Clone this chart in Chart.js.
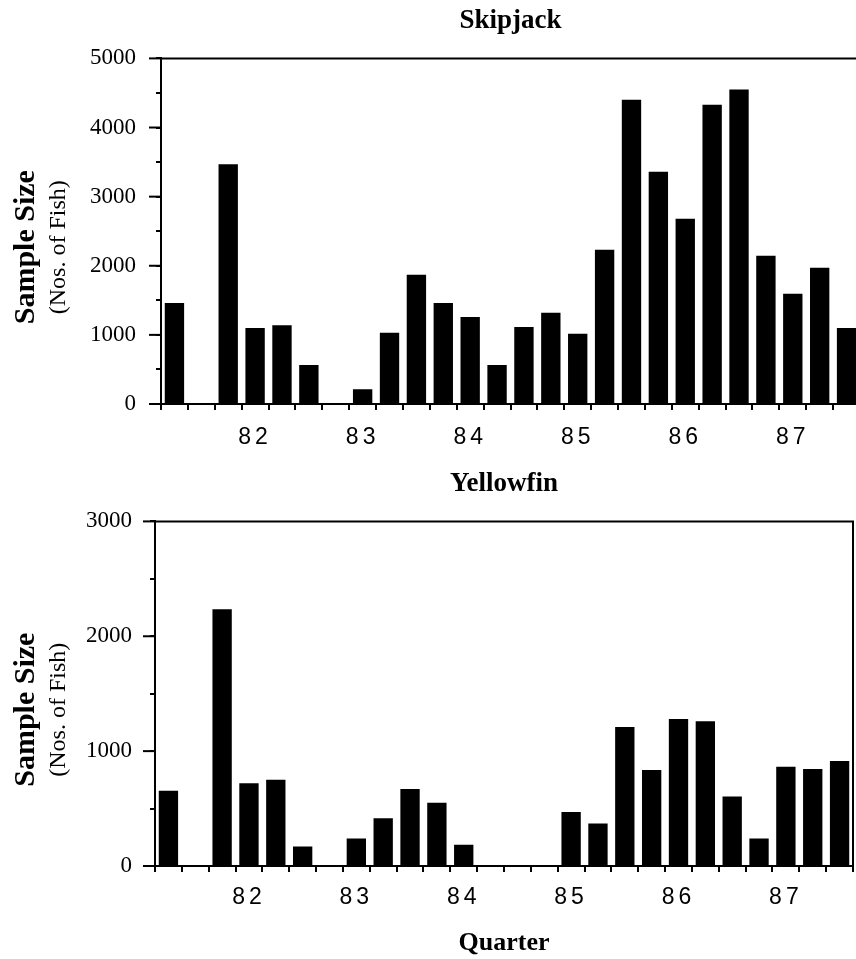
<!DOCTYPE html>
<html>
<head>
<meta charset="utf-8">
<title>Skipjack and Yellowfin sample size by quarter</title>
<script src="https://cdn.jsdelivr.net/npm/chart.js@4.4.0/dist/chart.umd.min.js"></script>
<style>
  html, body { margin: 0; padding: 0; background: #fff; overflow: hidden; }
  .panel { position: absolute; left: 0; }
  #topPanel { top: 0; width: 870px; height: 460px; }
  #bottomPanel { top: 460px; width: 856px; height: 499px; }
</style>
</head>
<body>
<div class="panel" id="topPanel"><canvas id="skipjackChart"></canvas></div>
<div class="panel" id="bottomPanel"><canvas id="yellowfinChart"></canvas></div>
<script>
// quarters, 1981 Q2 .. 1987 Q3
const quarters = [
    '81 Q2', '81 Q3', '81 Q4',
    '82 Q1', '82 Q2', '82 Q3', '82 Q4',
    '83 Q1', '83 Q2', '83 Q3', '83 Q4',
    '84 Q1', '84 Q2', '84 Q3', '84 Q4',
    '85 Q1', '85 Q2', '85 Q3', '85 Q4',
    '86 Q1', '86 Q2', '86 Q3', '86 Q4',
    '87 Q1', '87 Q2', '87 Q3'
];
const skipjackSamples = [1460, 0, 3470, 1100, 1140, 565, 0, 215, 1030, 1870, 1460, 1260, 565,
    1115, 1320, 1015, 2230, 4400, 3360, 2680, 4330, 4550, 2145, 1595, 1970, 1100];
const yellowfinSamples = [655, 0, 2235, 720, 750, 170, 0, 240, 415, 670, 550, 185, 0,
    0, 0, 470, 370, 1210, 835, 1280, 1260, 605, 240, 865, 845, 915];
const skipjackMax = 5000;
const yellowfinMax = 3000;
const minorStep = 500;
const majorStep = 1000;

const serif = '"Liberation Serif", "Times New Roman", serif';
const sans = '"Liberation Sans", Arial, sans-serif';

// frame, long major ticks, letter spacing for year labels, two-font y title
const panelExtras = {
    id: 'panelExtras',
    afterDatasetsDraw(chart) {
        chart.ctx.letterSpacing = '4px';
    },
    afterDraw(chart) {
        const ctx = chart.ctx;
        ctx.letterSpacing = '0px';
        const a = chart.chartArea;
        const y = chart.scales.y;
        ctx.save();
        ctx.strokeStyle = '#000';
        ctx.lineWidth = 2;
        y.ticks.forEach(t => {
            if (t.value % majorStep === 0) {
                const py = y.getPixelForValue(t.value);
                ctx.beginPath();
                ctx.moveTo(a.left - 12, py);
                ctx.lineTo(a.left, py);
                ctx.stroke();
            }
        });
        ctx.beginPath();
        ctx.moveTo(a.left, a.top);
        ctx.lineTo(a.right, a.top);
        ctx.lineTo(a.right, a.bottom);
        ctx.stroke();

        ctx.fillStyle = '#000';
        ctx.textAlign = 'center';
        ctx.textBaseline = 'middle';
        ctx.translate(26, (a.top + a.bottom) / 2 + 16);
        ctx.rotate(-Math.PI / 2);
        ctx.font = 'bold 30px ' + serif;
        ctx.fillText('Sample Size', 0, 0);
        ctx.font = '24px ' + serif;
        ctx.fillText('(Nos. of Fish)', 0, 33);
        ctx.restore();
    }
};

function makePanel(canvasId, name, values, maxValue, layout) {
    return new Chart(document.getElementById(canvasId), {
        type: 'bar',
        data: {
            labels: quarters,
            datasets: [{
                label: name,
                data: values,
                backgroundColor: '#000',
                borderWidth: 0,
                barPercentage: 0.72,
                categoryPercentage: 1.0
            }]
        },
        options: {
            responsive: true,
            maintainAspectRatio: false,
            animation: false,
            layout: { padding: { left: 0, right: layout.padRight, top: 0, bottom: 0 } },
            plugins: {
                legend: { display: false },
                tooltip: { enabled: false },
                title: {
                    display: true,
                    text: name,
                    fullSize: false,
                    color: '#000',
                    font: { family: serif, size: 27, weight: 'bold' },
                    padding: { top: layout.titleTop, bottom: layout.titleGap }
                }
            },
            scales: {
                x: {
                    afterFit: s => { s.height = layout.xHeight; },
                    grid: {
                        offset: true,
                        drawOnChartArea: false,
                        color: '#000',
                        lineWidth: 2,
                        tickLength: 6
                    },
                    border: { color: '#000', width: 2 },
                    ticks: {
                        z: 1,
                        autoSkip: false,
                        maxRotation: 0,
                        color: '#000',
                        padding: layout.xPad,
                        font: { family: sans, size: 23 },
                        callback: (v, i) => quarters[i].endsWith('Q1') ? quarters[i].slice(0, 2) : ''
                    },
                    title: {
                        display: layout.showQuarter,
                        text: 'Quarter',
                        color: '#000',
                        font: { family: serif, size: 26, weight: 'bold' },
                        padding: { top: 0, bottom: 0 }
                    }
                },
                y: {
                    min: 0,
                    max: maxValue,
                    afterFit: s => { s.width = layout.yWidth; },
                    grid: {
                        drawOnChartArea: false,
                        color: '#000',
                        lineWidth: 2,
                        tickLength: 5
                    },
                    border: { color: '#000', width: 2 },
                    ticks: {
                        stepSize: minorStep,
                        color: '#000',
                        padding: layout.yPad,
                        font: { family: serif, size: 23 },
                        callback: v => v % majorStep === 0 ? v : ''
                    }
                }
            }
        },
        plugins: [panelExtras]
    });
}

makePanel('skipjackChart', 'Skipjack', skipjackSamples, skipjackMax,
    { padRight: 10, titleTop: 5, titleGap: 21, xHeight: 56, xPad: 14, yWidth: 161, yPad: 20, showQuarter: false });
makePanel('yellowfinChart', 'Yellowfin', yellowfinSamples, yellowfinMax,
    { padRight: 3, titleTop: 8, titleGap: 21, xHeight: 93, xPad: 12, yWidth: 155, yPad: 18, showQuarter: true });
</script>
</body>
</html>
